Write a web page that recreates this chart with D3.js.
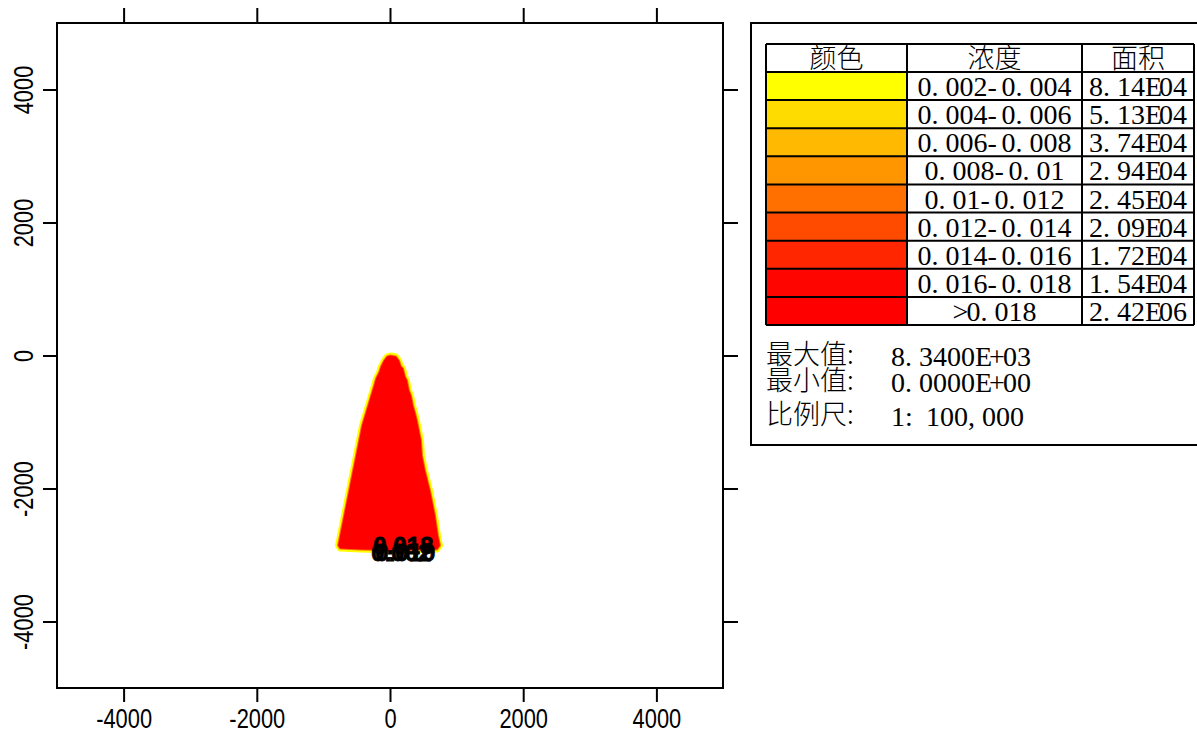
<!DOCTYPE html>
<html>
<head>
<meta charset="utf-8">
<script src="https://cdn.jsdelivr.net/npm/d3@7/dist/d3.min.js"></script>
<style>
body { margin: 0; background: #fff; }
</style>
</head>
<body>
<div class="g-chart-container"></div>
<script>
// legend data
var legendColors = ["#FFFF00", "#FFDC00", "#FFB900", "#FF9600", "#FF7000", "#FF4B00", "#FF2600", "#FF0500", "#FF0000"];
var rangeLabels = ["0.002-0.004", "0.004-0.006", "0.006-0.008", "0.008-0.01", "0.01-0.012",
  "0.012-0.014", "0.014-0.016", "0.016-0.018", ">0.018"];
var areaLabels = ["8.14E04", "5.13E04", "3.74E04", "2.94E04", "2.45E04", "2.09E04", "1.72E04", "1.54E04", "2.42E06"];
var headerLabels = ["颜色", "浓度", "面积"];
var statNames = ["最大值:", "最小值:", "比例尺:"];
var statValues = ["8.3400E+03", "0.0000E+00", "1: 100,000"];

// axes
var tickValues = [-4000, -2000, 0, 2000, 4000];

// plume outline (metres), clockwise from the source
var plumeOutline = [
  [0, 0], [90, -15], [135, -75], [165, -165], [195, -195], [225, -316], [255, -376],
  [285, -526], [315, -602], [345, -752], [375, -857], [405, -978], [435, -1128],
  [465, -1278], [480, -1504], [525, -1730], [600, -2030], [675, -2406], [720, -2707],
  [750, -2858], [705, -2918], [150, -2933], [-450, -2918], [-750, -2903], [-780, -2858],
  [-750, -2707], [-690, -2406], [-600, -1955], [-525, -1579], [-495, -1429], [-465, -1278],
  [-420, -1053], [-375, -902], [-330, -752], [-285, -602], [-240, -451], [-210, -346],
  [-165, -256], [-135, -165], [-90, -75], [-45, -15]
];

// contour labels piled up at the plume edge
var contourLabels = [
  {text: "0.002", x: 170, y: -3095},
  {text: "0.010", x: 230, y: -3090},
  {text: "0.018", x: 200, y: -2990}
];

var width = 1197;
var height = 731;
var plot = {left: 57, right: 723, top: 23, bottom: 688};
var pitch = 14; // half-width glyph advance in the legend

var svg = d3.select(".g-chart-container")
  .append("svg")
  .attr("width", width)
  .attr("height", height);

var x = d3.scaleLinear().domain([-5000, 5000]).range([plot.left, plot.right]);
var y = d3.scaleLinear().domain([-5000, 5000]).range([plot.bottom, plot.top]);

// plume
var line = d3.line()
  .x(function(d){ return x(d[0]); })
  .y(function(d){ return y(d[1]); })
  .curve(d3.curveLinearClosed);

var plume = svg.append("g");
plume.append("path")
  .attr("d", line(plumeOutline))
  .style("fill", legendColors[0])
  .style("stroke", legendColors[0])
  .style("stroke-width", 6)
  .style("stroke-linejoin", "round");
plume.append("path")
  .attr("d", line(plumeOutline))
  .style("fill", legendColors[4])
  .style("stroke", legendColors[4])
  .style("stroke-width", 2)
  .style("stroke-linejoin", "round");
plume.append("path")
  .attr("d", line(plumeOutline))
  .style("fill", legendColors[8]);

plume.selectAll(".contour-label")
  .data(contourLabels)
  .enter()
  .append("text")
  .attr("class", "contour-label")
  .attr("x", function(d){ return x(d.x); })
  .attr("y", function(d){ return y(d.y); })
  .attr("text-anchor", "middle")
  .style("font-family", "Liberation Sans, Arial, sans-serif")
  .style("font-weight", "bold")
  .style("font-size", "24px")
  .style("fill", "#000")
  .style("stroke", "#000")
  .style("stroke-width", 0.8)
  .text(function(d){ return d.text; });

// axes
var tickFont = "'Liberation Sans', Arial, sans-serif";
var fmt = function(d){ return String(d); };

var gBottom = svg.append("g")
  .attr("transform", "translate(0," + plot.bottom + ")")
  .call(d3.axisBottom(x).tickValues(tickValues).tickSize(14).tickFormat(fmt));
gBottom.selectAll("text")
  .attr("y", null).attr("dy", null)
  .attr("transform", "translate(0,40) scale(0.81,1)");

var gLeft = svg.append("g")
  .attr("transform", "translate(" + plot.left + ",0)")
  .call(d3.axisLeft(y).tickValues(tickValues).tickSize(14).tickFormat(fmt));
gLeft.selectAll("text")
  .attr("x", null).attr("dy", null)
  .attr("text-anchor", "middle")
  .attr("transform", "translate(-24,0) rotate(-90) scale(0.81,1)");

svg.append("g")
  .attr("transform", "translate(0," + plot.top + ")")
  .call(d3.axisTop(x).tickValues(tickValues).tickSize(15).tickFormat(""));
svg.append("g")
  .attr("transform", "translate(" + plot.right + ",0)")
  .call(d3.axisRight(y).tickValues(tickValues).tickSize(15).tickFormat(""));

svg.selectAll(".domain").remove();
svg.selectAll(".tick line").style("stroke", "#000").style("stroke-width", 2);
svg.selectAll(".tick text")
  .style("font-family", tickFont)
  .style("font-size", "27px")
  .style("fill", "#000");

svg.append("rect")
  .attr("x", plot.left).attr("y", plot.top)
  .attr("width", plot.right - plot.left).attr("height", plot.bottom - plot.top)
  .style("fill", "none").style("stroke", "#000").style("stroke-width", 2);

// legend
var legend = svg.append("g");
legend.append("rect")
  .attr("x", 751).attr("y", 23).attr("width", 470).attr("height", 422)
  .style("fill", "none").style("stroke", "#000").style("stroke-width", 2);

var cols = [766, 907, 1082, 1194];
var tableTop = 44;
var headH = 28;
var rowH = (325 - 72) / legendColors.length;
var latin = "'Liberation Serif', 'Times New Roman', serif";
var cjk = "'Noto Sans CJK SC', sans-serif";

// mono spaced text: one x per glyph, a space only takes half a cell
function monoX(str, x0){
  var xs = [], cur = x0;
  str.split("").forEach(function(c){
    xs.push(cur);
    cur += c === " " ? pitch / 2 : pitch;
  });
  return xs.join(" ");
}

legend.selectAll(".head")
  .data(headerLabels)
  .enter()
  .append("text")
  .attr("class", "head")
  .attr("x", function(d, i){ return (cols[i] + cols[i + 1]) / 2; })
  .attr("y", tableTop + headH - 4)
  .attr("text-anchor", "middle")
  .style("font-family", cjk)
  .style("font-size", "27px")
  .style("font-weight", 300)
  .text(function(d){ return d; });

var rows = legend.selectAll(".row")
  .data(legendColors)
  .enter()
  .append("g")
  .attr("class", "row")
  .attr("transform", function(d, i){ return "translate(0," + (tableTop + headH + i * rowH) + ")"; });

rows.append("rect")
  .attr("x", cols[0]).attr("width", cols[1] - cols[0]).attr("height", rowH)
  .style("fill", function(d){ return d; });

rows.append("text")
  .attr("x", function(d, i){ return monoX(rangeLabels[i], (cols[1] + cols[2]) / 2 - rangeLabels[i].length * pitch / 2); })
  .attr("y", rowH - 4)
  .style("font-family", latin)
  .style("font-size", "28px")
  .text(function(d, i){ return rangeLabels[i]; });

rows.append("text")
  .attr("x", function(d, i){ return monoX(areaLabels[i], (cols[2] + cols[3]) / 2 - areaLabels[i].length * pitch / 2); })
  .attr("y", rowH - 4)
  .style("font-family", latin)
  .style("font-size", "28px")
  .text(function(d, i){ return areaLabels[i]; });

// grid lines of the table
var gridY = [tableTop, tableTop + headH].concat(legendColors.map(function(d, i){ return tableTop + headH + (i + 1) * rowH; }));
legend.selectAll(".hline")
  .data(gridY)
  .enter()
  .append("line")
  .attr("x1", cols[0]).attr("x2", cols[3])
  .attr("y1", function(d){ return d; }).attr("y2", function(d){ return d; })
  .style("stroke", "#000").style("stroke-width", 2);
legend.selectAll(".vline")
  .data(cols)
  .enter()
  .append("line")
  .attr("x1", function(d){ return d; }).attr("x2", function(d){ return d; })
  .attr("y1", tableTop).attr("y2", gridY[gridY.length - 1])
  .style("stroke", "#000").style("stroke-width", 2);

// stats below the table
var statY = [366, 392, 426];
legend.selectAll(".stat-name")
  .data(statNames)
  .enter()
  .append("text")
  .attr("x", 766)
  .attr("y", function(d, i){ return statY[i] - 2; })
  .style("font-family", cjk)
  .style("font-size", "27px")
  .style("font-weight", 300)
  .text(function(d){ return d; });
legend.selectAll(".stat-value")
  .data(statValues)
  .enter()
  .append("text")
  .attr("x", function(d){ return monoX(d, 891); })
  .attr("y", function(d, i){ return statY[i]; })
  .style("font-family", latin)
  .style("font-size", "28px")
  .text(function(d){ return d; });
</script>
</body>
</html>
